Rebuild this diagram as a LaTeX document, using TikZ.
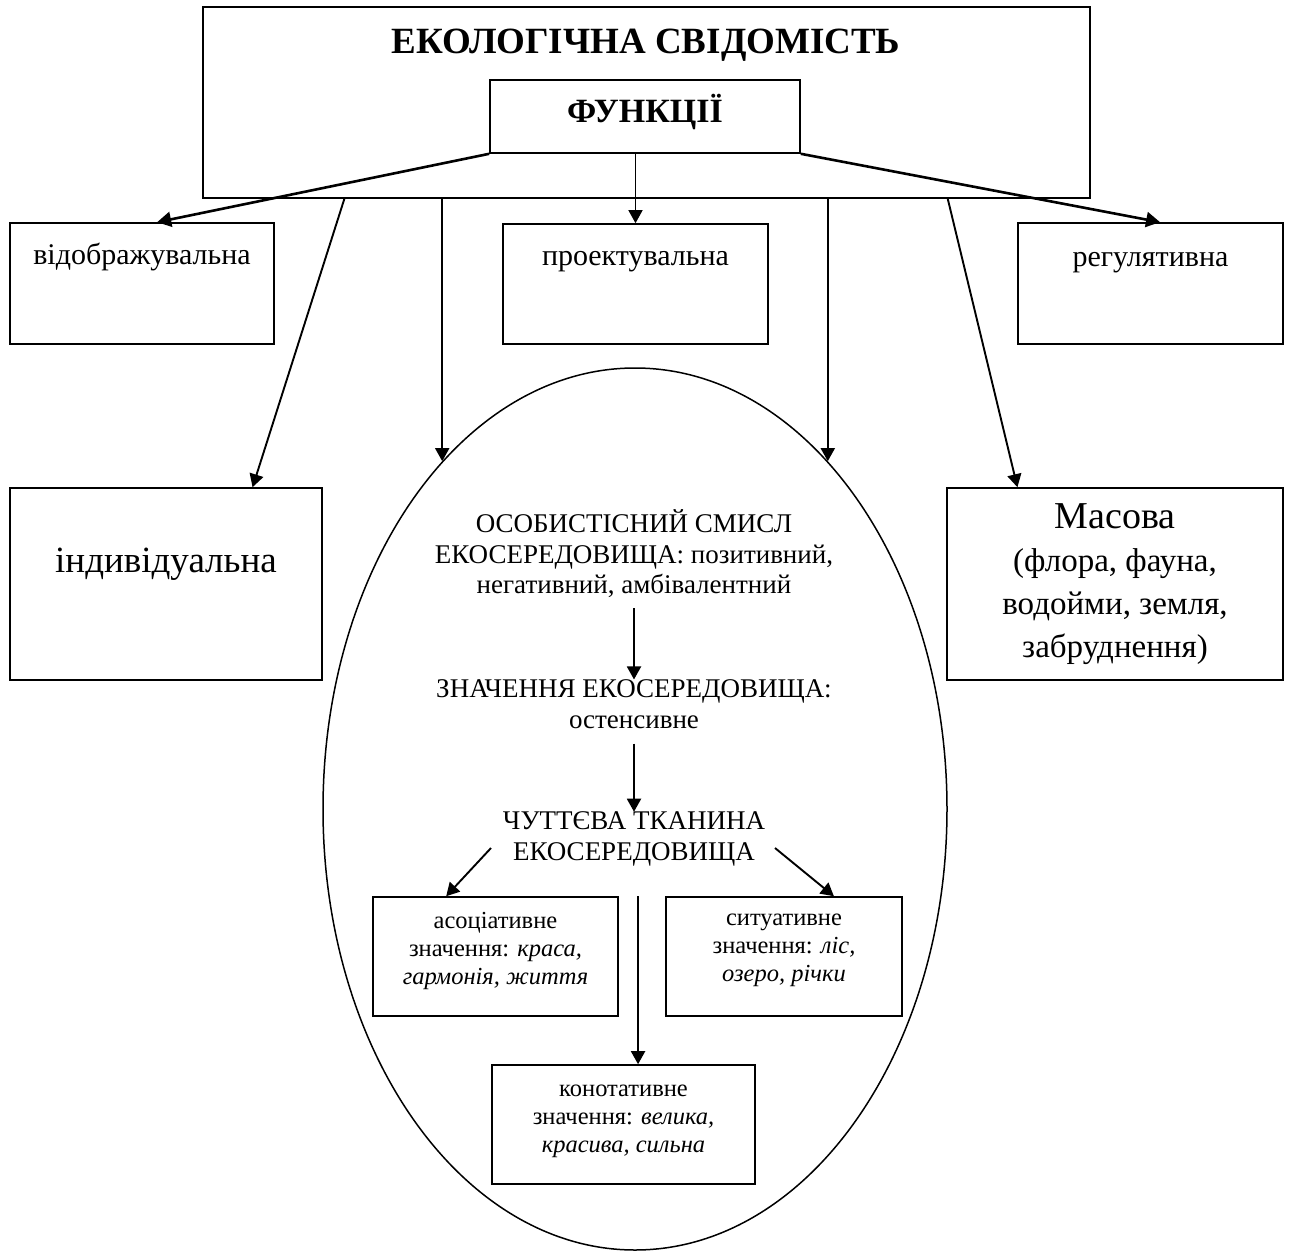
\documentclass[tikz,border=0pt]{standalone}
\usepackage{fontspec}
\setmainfont{Liberation Serif}
\usetikzlibrary{arrows.meta,calc,shapes.geometric}
\begin{document}
\begin{tikzpicture}[x=1pt,y=-1pt,
  box/.style={draw,line width=1.6pt,rectangle,inner sep=0pt,align=center},
  arr/.style={line width=1.9pt,-{Triangle[length=13pt,width=14pt]}},
  thickarr/.style={line width=2.6pt,-{Triangle[length=14pt,width=15pt]}},
  topfont/.style={font=\fontsize{30}{34}\selectfont},
  bigfont/.style={font=\fontsize{37}{42}\selectfont},
  elfont/.style={font=\fontsize{27}{30.5}\selectfont},
  smallfont/.style={font=\fontsize{24.5}{28}\selectfont},
  txt/.style={inner sep=0pt,align=center}]
\useasboundingbox (0,0) rectangle (1290,1252);

% top frame
\node[box,minimum width=887pt,minimum height=191pt] (outer) at (646.5,102.5) {};
\node[txt,anchor=base,font=\fontsize{37}{44}\selectfont\bfseries] (title) at (646,54) {ЕКОЛОГІЧНА СВІДОМІСТЬ};
\node[box,minimum width=310pt,minimum height=73pt,font=\fontsize{34}{40}\selectfont\bfseries,text height=24pt,text depth=11pt] (func) at (645,116.5) {ФУНКЦІЇ};

% function boxes
\node[box,topfont,minimum width=264pt,minimum height=121pt,text height=21pt,text depth=60pt] (vidobr) at (142,283.5) {відображувальна};
\node[box,topfont,minimum width=265pt,minimum height=120pt,text height=21pt,text depth=58pt] (proekt) at (635.5,284) {проектувальна};
\node[box,topfont,minimum width=265pt,minimum height=121pt,text height=21pt,text depth=56pt] (regul) at (1150.5,283.5) {регулятивна};

% level boxes
\node[box,bigfont,minimum width=312pt,minimum height=192pt,text height=26pt,text depth=50pt] (indyv) at (166,584) {індивідуальна};
\node[box,font=\fontsize{33}{43}\selectfont,minimum width=336pt,minimum height=192pt] (masova) at (1115,584)
  {{\fontsize{38}{43}\selectfont Масова}\\(флора, фауна,\\водойми, земля,\\забруднення)};

% ellipse
\node[draw,ellipse,line width=1.5pt,inner sep=0pt,minimum width=624pt,minimum height=882pt] (ell) at (635,809) {};

\node[txt,elfont] (t1) at (634,554) {ОСОБИСТІСНИЙ СМИСЛ\\ЕКОСЕРЕДОВИЩА: позитивний,\\негативний, амбівалентний};
\node[txt,elfont] (t2) at (634,704) {ЗНАЧЕННЯ ЕКОСЕРЕДОВИЩА:\\остенсивне};
\node[txt,elfont] (t3) at (634,839) {ЧУТТЄВА ТКАНИНА\\ЕКОСЕРЕДОВИЩА};

\node[box,smallfont,minimum width=245pt,minimum height=119pt,text depth=17pt] (assoc) at (495.5,956.5)
  {асоціативне\\значення: \textit{краса,}\\\textit{гармонія, життя}};
\node[box,smallfont,minimum width=236pt,minimum height=119pt,text depth=17pt] (sytu) at (784,956.5)
  {ситуативне\\значення: \textit{ліс,}\\\textit{озеро, річки}};
\node[box,smallfont,minimum width=263pt,minimum height=119pt,text depth=11pt] (konot) at (623.5,1124.5)
  {конотативне\\значення: \textit{велика,}\\\textit{красива, сильна}};

% connectors from ФУНКЦІЇ
\draw[thickarr] (func.south west) -- ($(vidobr.north west)!0.557!(vidobr.north east)$);
\draw[arr,line width=1.4pt] (proekt.north |- func.south) -- (proekt.north);
\draw[thickarr] (func.south east) -- ($(regul.north west)!0.536!(regul.north east)$);

% connectors from the frame
\draw[arr] ($(outer.south west)!0.160!(outer.south east)$) -- ($(indyv.north west)!0.776!(indyv.north east)$);
\draw[arr] (outer.south -| ell.119.3) -- (ell.119.3);
\draw[arr] (outer.south -| ell.61.1) -- (ell.61.1);
\draw[arr] ($(outer.south west)!0.839!(outer.south east)$) -- ($(masova.north west)!0.211!(masova.north east)$);

% inside the ellipse
\draw[arr] ($(t1.south)+(0,10)$) -- (t2.north);
\draw[arr] ($(t2.south)+(0,15)$) -- (t3.north);
\draw[arr] ($(t3.center)+(-143,9)$) -- ($(assoc.north west)!0.30!(assoc.north east)$);
\draw[arr] ($(t3.center)+(141,9)$) -- ($(sytu.north west)!0.71!(sytu.north east)$);
\coordinate (kt) at ($(konot.north west)!0.555!(konot.north east)$);
\draw[arr] (kt |- assoc.north) -- (kt);
\end{tikzpicture}
\end{document}
